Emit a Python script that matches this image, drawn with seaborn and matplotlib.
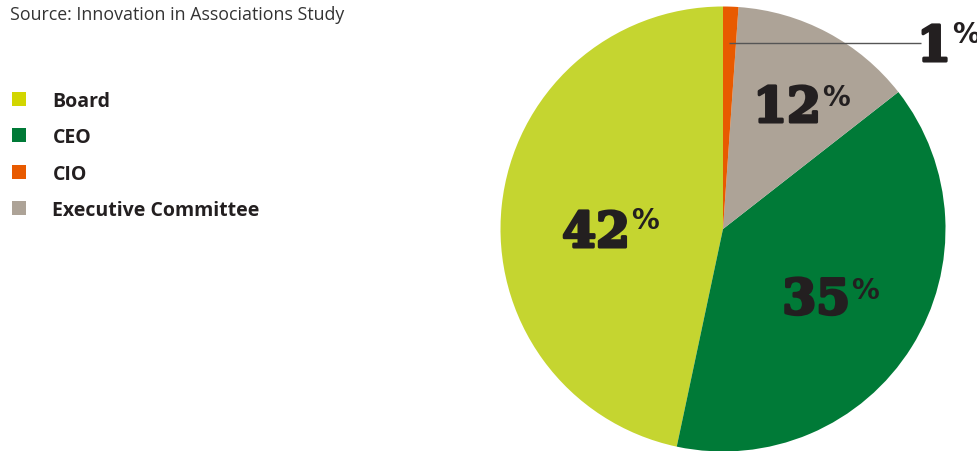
import matplotlib
matplotlib.use("Agg")
import matplotlib.pyplot as plt
import matplotlib.patheffects as pe
from matplotlib.patches import Patch
import seaborn as sns

# Who drives innovation in associations
categories = ["Board", "CEO", "CIO", "Executive Committee"]
shares = [42, 35, 1, 12]
slice_colors = ["#C5D530", "#007A37", "#E85A00", "#ADA397"]
legend_colors = ["#D2D600", "#007A37", "#E85A00", "#ADA397"]
source_text = "Source: Innovation in Associations Study"

sns.set_theme(style="white")
plt.rcParams["font.family"] = ["Open Sans", "DejaVu Sans"]

W, H = 978, 452
fig = plt.figure(figsize=(W / 100, H / 100), dpi=100)
ax = fig.add_axes([0, 0, 1, 1])


def py(y):
    """Convert a top-down pixel row to the axis' upward y coordinate."""
    return H - y


# Wedges drawn counter-clockwise from 12 o'clock: Board, CEO, Exec. Committee, CIO
pie_order = [0, 1, 3, 2]
wedges, _ = ax.pie(
    [shares[i] for i in pie_order],
    colors=[slice_colors[i] for i in pie_order],
    startangle=90,
    counterclock=True,
    center=(723, py(230)),
    radius=222.5,
    wedgeprops=dict(linewidth=0),
)
ax.set_xlim(0, W)
ax.set_ylim(0, H)
ax.set_aspect("equal")
ax.axis("off")

# Percentage labels: (number/percent junction x, baseline y, percent-top y)
label_pos = {
    "Board": (630, 248, 207),
    "CEO": (850, 315, 277),
    "Executive Committee": (821, 123, 84),
    "CIO": (951, 62, 21),
}
ink = "#231F20"
heavy = [pe.withStroke(linewidth=2.2, foreground=ink)]
for cat, val in zip(categories, shares):
    x, base, ptop = label_pos[cat]
    ax.text(x, py(base), f"{val}", ha="right", va="baseline",
            fontsize=35, family="DejaVu Serif", fontweight="bold",
            color=ink, path_effects=heavy)
    ax.text(x + 1, py(ptop), "%", ha="left", va="top",
            fontsize=20, family="DejaVu Sans", fontweight="bold",
            color=ink)

# Leader line for the thin CIO slice
ax.plot([729, 921], [py(44), py(44)], color="#555555", linewidth=1.0,
        solid_capstyle="butt")

# Source note
fig.text(10 / W, 1 - 15 / H, source_text, ha="left", va="center",
         fontsize=12.8, color="#333333")

# Legend
handles = [Patch(facecolor=c, edgecolor="none") for c in legend_colors]
leg = ax.legend(
    handles, categories,
    loc="upper left", bbox_to_anchor=(-4 / W, 1 - 76 / H),
    frameon=False, fontsize=14,
    handlelength=0.75, handleheight=0.75,
    handletextpad=1.35, labelspacing=0.85, borderpad=0.3,
)
for t in leg.get_texts():
    t.set_fontweight("bold")
    t.set_color(ink)

fig.savefig("out.png", dpi=100, facecolor="white")
